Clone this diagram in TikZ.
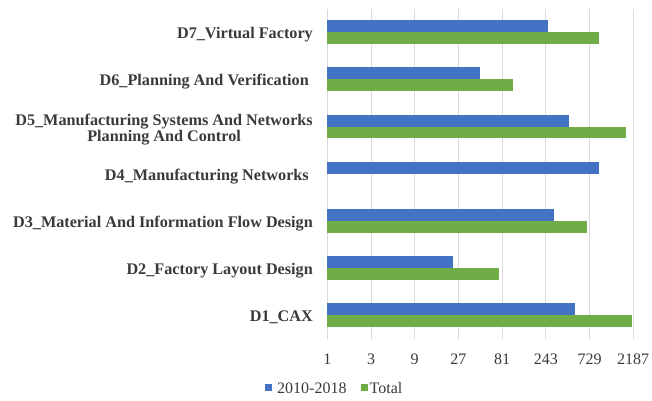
\documentclass[tikz,border=0pt]{standalone}
\usepackage{fontspec}
\setmainfont{Liberation Serif}
\definecolor{serA}{HTML}{4472C4}
\definecolor{serB}{HTML}{70AD47}
\definecolor{gridc}{HTML}{D9D9D9}
\definecolor{txt}{HTML}{3A3A3A}
\begin{document}
\begin{tikzpicture}[x=1pt,y=-1pt,
  catlabel/.style={anchor=base east, font=\fontsize{16.2}{16.7}\selectfont\bfseries,
    text=txt, align=center, inner sep=0pt},
  ticklabel/.style={anchor=center, font=\fontsize{16}{18}\selectfont, text=txt, inner sep=0pt},
  legtext/.style={anchor=west, font=\fontsize{16}{18}\selectfont, text=txt, inner sep=0pt},
  gridline/.style={draw=gridc, line width=0.8pt},
  barA/.style={fill=serA},
  barB/.style={fill=serB}]
\useasboundingbox (0,0) rectangle (652,400);
\fill[white] (0,0) rectangle (652,400);

% log-3 value axis: one grid step per factor of three
\def\xo{327.3}
\def\xs{43.7}
\foreach \k [count=\i from 0] in {1,3,9,27,81,243,729,2187} {
  \draw[gridline] (\xo+\xs*\i, 9) -- (\xo+\xs*\i, 339);
  \node[ticklabel] (tick\i) at (\xo+\xs*\i, 359) {\k};
}

% bars: category, centre line, log3 of 2010-2018, log3 of total
\foreach \c/\yc/\a/\b in {1/315.3/5.67/6.97, 2/268.1/2.88/3.94, 3/220.9/5.19/5.94,
                          5/126.5/5.54/6.84, 6/79.3/3.49/4.26, 7/32.1/5.05/6.22} {
  \fill[barA] (\xo, \yc-12) rectangle (\xo+\xs*\a, \yc);
  \fill[barB] (\xo, \yc) rectangle (\xo+\xs*\b, \yc+11.6);
}
\fill[barA] (\xo, 173.7-12) rectangle (\xo+\xs*6.22, 173.7);

% category labels (base of a two-line label is its last line)
\node[catlabel] (d7) at (313, 38.3) {D7\_Virtual Factory};
\node[catlabel] (d6) at (309, 85.5) {D6\_Planning And Verification};
\node[catlabel] (d5) at (313, 141.7) {D5\_Manufacturing Systems And Networks\\Planning And Control};
\node[catlabel] (d4) at (309, 180) {D4\_Manufacturing Networks};
\node[catlabel] (d3) at (313, 227.2) {D3\_Material And Information Flow Design};
\node[catlabel] (d2) at (313, 274.4) {D2\_Factory Layout Design};
\node[catlabel] (d1) at (313, 321.6) {D1\_CAX};

% legend
\fill[serA] (265,384) rectangle (272,391);
\node[legtext] (legA) at (277,388) {2010-2018};
\fill[serB] (361,384) rectangle (368,391);
\node[legtext] (legB) at (369.5,388) {Total};
\end{tikzpicture}
\end{document}
